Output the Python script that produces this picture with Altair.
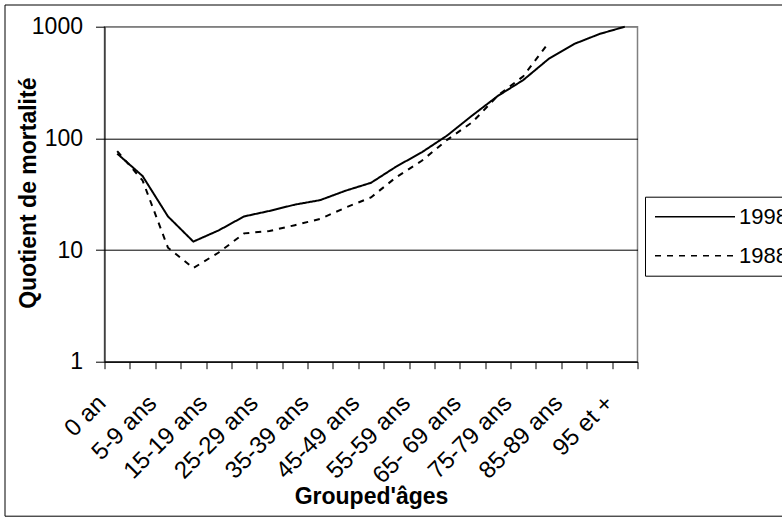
import altair as alt
import pandas as pd

categories = ["0 an", "1-4 ans", "5-9 ans", "10-14 ans", "15-19 ans", "20-24 ans",
              "25-29 ans", "30-34 ans", "35-39 ans", "40-44 ans", "45-49 ans",
              "50-54 ans", "55-59 ans", "60-64 ans", "65- 69 ans", "70-74 ans",
              "75-79 ans", "80-84 ans", "85-89 ans", "90-94 ans", "95 et +"]
shown_labels = ["0 an", "5-9 ans", "15-19 ans", "25-29 ans", "35-39 ans", "45-49 ans",
                "55-59 ans", "65- 69 ans", "75-79 ans", "85-89 ans", "95 et +"]

q1998 = [73, 46, 20, 11.9, 15, 20, 22.4, 25.5, 28, 34, 40, 56, 75, 106, 161, 240,
         333, 515, 700, 860, 1000]
q1988 = [77, 42, 10.5, 6.9, 9.5, 14.1, 14.8, 16.7, 19, 24, 29.6, 45, 63, 97, 140,
         242, 360, 720]

series_names = ["1998", "1988"]

rows = []
for c, v in zip(categories, q1998):
    rows.append({"age": c, "q": v, "annee": "1998"})
for c, v in zip(categories, q1988):
    rows.append({"age": c, "q": v, "annee": "1988"})
df = pd.DataFrame(rows)

FONT = "Liberation Sans"
label_test = "indexof(" + str(shown_labels) + ", datum.value) >= 0 ? datum.label : ''"

lines = alt.Chart(df).mark_line(strokeWidth=2, color="black").encode(
    x=alt.X("age:N", sort=categories,
            scale=alt.Scale(type="band", domain=categories, paddingInner=0, paddingOuter=0),
            axis=alt.Axis(title="Grouped'âges", labelAngle=-45, labelAlign="right",
                          labelBaseline="top", labelPadding=22, labelOffset=-24,
                          labelExpr=label_test, labelOverlap=False, labelFlush=False,
                          labelBound=False,
                          tickBand="extent", tickSize=7, tickColor="black",
                          domainColor="black", grid=False,
                          labelFont=FONT, labelFontSize=24, labelColor="black",
                          titleFont=FONT, titleFontSize=23, titleFontWeight="bold",
                          titleColor="black", titleX=266.5, titleY=142,
                          titleAlign="center", titleBaseline="alphabetic")),
    y=alt.Y("q:Q",
            scale=alt.Scale(type="log", domain=[1, 1000], nice=False),
            axis=alt.Axis(title="Quotient de mortalité", values=[1, 10, 100, 1000],
                          format="d", tickSize=9, tickColor="black", domainColor="black",
                          labelPadding=13, labelFont=FONT, labelFontSize=23,
                          labelColor="black", grid=True,
                          gridColor={"condition": {"test": "datum.value >= 1000", "value": "#808080"},
                                     "value": "black"},
                          gridWidth=1,
                          titleFont=FONT, titleFontSize=23, titleFontWeight="bold",
                          titleColor="black", titleX=-69.5, titleY=166,
                          titleAlign="center", titleBaseline="alphabetic", titleAngle=270)),
    strokeDash=alt.StrokeDash("annee:N",
                              scale=alt.Scale(domain=series_names, range=[[1, 0], [6, 6]]),
                              legend=alt.Legend(title=None, orient="none",
                                                legendX=540.5, legendY=170,
                                                symbolType="stroke", symbolSize=6400,
                                                symbolStrokeWidth=1.5,
                                                symbolStrokeColor="black",
                                                clipHeight=22, rowPadding=17,
                                                labelOffset=3, labelFont=FONT,
                                                labelFontSize=22, labelColor="black",
                                                padding=9, strokeColor="black",
                                                fillColor="white")),
    order=alt.Order("idx:Q"),
).transform_calculate(
    idx="indexof(" + str(categories) + ", datum.age)"
)

frame_df = pd.DataFrame({"k": [0]})
frame = alt.Chart(frame_df).mark_rect(fill=None, stroke="black", strokeWidth=1).encode(
    x=alt.value(-99.5), x2=alt.value(690), y=alt.value(-21.7), y2=alt.value(489.5)
)

chart = alt.layer(frame, lines).properties(
    width=533, height=335,
    padding={"left": 104.5, "top": 26.7, "right": 144.5, "bottom": 158.3},
    autosize=alt.AutoSizeParams(type="none"),
    background="white",
).configure_view(stroke="#808080", strokeWidth=1.5)

chart.save("out.html", embed_options={"renderer": "svg", "actions": False})
